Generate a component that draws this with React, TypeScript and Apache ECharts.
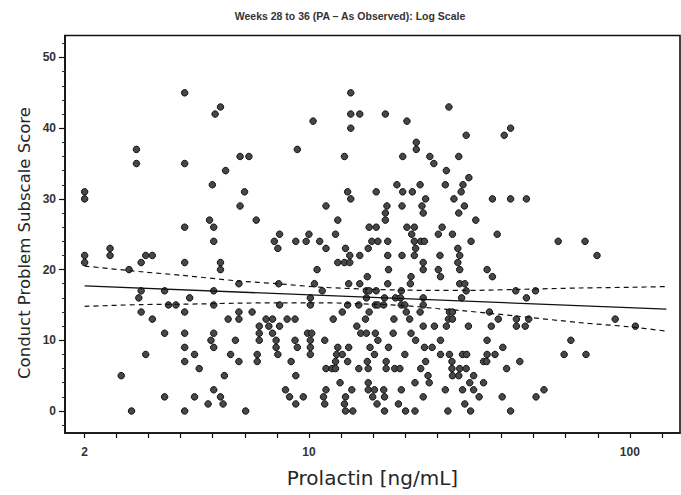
import React, { useEffect, useRef } from "react";
import * as echarts from "echarts";

const chartTitle = "Weeks 28 to 36 (PA – As Observed): Log Scale";
const xAxisName = "Prolactin [ng/mL]";
const yAxisName = "Conduct Problem Subscale Score";

// axis extents (prolactin on a log10 scale, score linear)
const xExtent = [1.737, 143.3];
const yExtent = [-3.11, 53.11];
const xTickValues = [1.995, 2.512, 3.162, 3.981, 5.012, 6.31, 7.943, 10, 12.59, 15.85, 19.95, 25.12, 31.62, 39.81, 50.12, 63.1, 79.43, 100, 125.9];
const xLabelValues = [2, 10, 100];
const yLabelValues = [0, 10, 20, 30, 40, 50];
const yMinorValues = [-2, 2, 4, 6, 8, 12, 14, 16, 18, 22, 24, 26, 28, 32, 34, 36, 38, 42, 44, 46, 48, 52];

// observations: each row = score and the prolactin values observed at it
const rows: [number, number[]][] = [
  [45, [4.1, 13.5]],
  [43, [5.3, 27.3]],
  [42, [5.1, 13.5, 14.4, 17.3]],
  [41, [10.3, 20.2]],
  [40, [13.5, 42.5]],
  [39, [30.9, 40.6]],
  [38, [21.6]],
  [37, [2.9, 9.2, 21.6]],
  [36, [6.1, 6.5, 12.9, 19.6, 23.8, 29.3]],
  [35, [2.9, 4.1, 24.5]],
  [34, [5.5, 26.8]],
  [33, [31.5]],
  [32, [5.0, 18.8, 22.2, 26.6, 30.2]],
  [31, [2.0, 6.3, 13.2, 16.2, 19.6, 21.0, 29.8]],
  [30, [2.0, 13.5, 23.1, 28.3, 37.3, 42.5, 47.6]],
  [29, [6.1, 11.3, 17.5, 19.5, 22.5, 30.5]],
  [28, [17.3, 22.7, 29.3]],
  [27, [4.9, 6.85, 12.3, 17.3, 33.1]],
  [26, [4.1, 5.05, 15.4, 16.2, 20.2, 21.3, 26.0]],
  [25, [8.1, 10.0, 12.1, 20.9, 25.3, 28.0, 38.6]],
  [24, [5.05, 7.8, 9.1, 9.8, 10.8, 15.7, 16.4, 17.6, 21.3, 22.3, 22.9, 32.0, 59.8, 72.5]],
  [23, [2.4, 8.0, 11.3, 13.0, 15.3, 21.5, 29.1]],
  [22, [2.0, 2.4, 3.1, 3.25, 13.4, 14.4, 17.6, 19.5, 21.3, 25.6, 29.5, 79]],
  [21, [2.0, 3.0, 4.1, 5.3, 12.3, 12.9, 13.4, 22.7, 29.1]],
  [20, [2.75, 5.3, 10.6, 17.7, 22.7, 25.3, 29.5, 35.9]],
  [19, [15.2, 20.8, 25.7, 37.3]],
  [18, [6.05, 8.05, 10.4, 13.3, 14.4, 17.6, 20.7, 29.5, 30.6]],
  [17, [3.0, 3.55, 5.05, 11.0, 15.1, 15.4, 16.2, 19.4, 30.9, 44.1, 50.8]],
  [16, [2.95, 4.25, 10.1, 15.1, 17.2, 18.6, 19.3, 22.7, 29.9, 47.6]],
  [15, [3.65, 3.85, 5.05, 8.1, 10.1, 13.2, 14.3, 16.1, 16.4, 17.1, 19.4, 19.9, 22.7]],
  [14, [3.0, 4.1, 6.05, 6.65, 12.7, 15.4, 20.1, 22.2, 27.4, 28.0, 36.5]],
  [13, [3.25, 5.6, 6.05, 7.35, 7.7, 8.55, 9.05, 11.9, 15.0, 18.4, 20.6, 27.2, 28.0, 38.9, 44.3, 48.4, 90]],
  [12, [7.0, 7.5, 8.1, 14.1, 22.7, 24.6, 26.8, 31.4, 37.0, 44.3, 47.2, 104]],
  [11, [3.55, 4.1, 5.05, 7.0, 7.7, 9.9, 10.2, 14.5, 15.1, 16.1, 18.3, 20.8]],
  [10, [4.95, 5.9, 7.0, 7.9, 9.05, 10.1, 11.2, 16.4, 21.5, 25.7, 35.9, 65.5]],
  [9, [4.1, 5.05, 7.9, 9.2, 10.1, 12.3, 13.3, 15.5, 17.7, 22.9, 24.2, 40.2]],
  [8, [3.1, 4.4, 5.7, 6.9, 8.0, 10.1, 12.2, 12.7, 16.0, 19.9, 25.7, 27.4, 30.1, 31.0, 35.9, 38.0, 62.4, 73]],
  [7, [4.1, 6.05, 6.9, 8.8, 12.1, 13.2, 15.2, 17.4, 23.1, 27.9, 35.0, 35.8, 45.4]],
  [6, [4.55, 11.3, 11.8, 12.1, 14.3, 15.3, 17.4, 18.5, 19.2, 22.3, 27.9, 29.5, 30.9, 41.3]],
  [5, [2.6, 5.45, 9.1, 23.5, 28.0, 29.3, 32.6]],
  [4, [12.5, 15.3, 21.4, 23.7, 31.7, 35.0]],
  [3, [5.05, 8.45, 11.3, 13.6, 15.3, 16.0, 17.1, 19.4, 26.6, 30.1, 32.6, 54]],
  [2, [3.55, 4.4, 5.3, 8.7, 9.6, 11.1, 13.0, 15.8, 17.2, 22.7, 33.9, 40, 51]],
  [1, [4.85, 5.4, 9.1, 11.2, 12.9, 16.3, 19.0, 30.6]],
  [0, [2.8, 4.1, 6.35, 13.0, 13.7, 17.2, 20.0, 21.4, 27.1, 31.9, 42.5]],
];

// regression line and confidence band
const fitX = [2, 130];
const fitY = [17.7, 14.4];
const bandX = [2, 3, 4, 6, 8, 11, 16, 20, 25, 30, 45, 70, 100, 130];
const bandUpper = [20.5, 19.7, 19.2, 18.4, 18.0, 17.5, 17.2, 17.1, 17.05, 17.05, 17.2, 17.4, 17.5, 17.6];
const bandLower = [14.8, 15.05, 15.1, 15.25, 15.3, 15.3, 15.1, 14.9, 14.5, 14.2, 13.4, 12.5, 11.9, 11.3];

const lg = (v: number) => Math.log10(v);

export default function App() {
  const ref = useRef<HTMLDivElement>(null);
  useEffect(() => {
    if (!ref.current) return;
    const chart = echarts.init(ref.current, undefined, { renderer: "svg" });
    const scatterData: number[][] = [];
    rows.forEach(([s, xs]) => xs.forEach((x) => scatterData.push([lg(x), s])));
    const textColor = "#262626";
    chart.setOption({
      animation: false,
      backgroundColor: "#ffffff",
      title: {
        text: chartTitle,
        left: 345,
        top: 5,
        textAlign: "center",
        textStyle: { fontFamily: "Liberation Sans", fontSize: 10.5, fontWeight: "bold", color: "#333" },
      },
      graphic: [
        {
          type: "text",
          x: 24,
          y: 243,
          rotation: Math.PI / 2,
          style: {
            text: yAxisName,
            fontFamily: "DejaVu Sans",
            fontSize: 16.5,
            fill: textColor,
            textAlign: "center",
            textVerticalAlign: "middle",
          },
        },
      ],
      grid: {
        left: 65,
        right: 1,
        top: 35.5,
        bottom: 62,
        show: true,
        borderColor: "#111",
        borderWidth: 1.6,
      },
      xAxis: {
        type: "value",
        min: lg(xExtent[0]),
        max: lg(xExtent[1]),
        name: xAxisName,
        nameLocation: "middle",
        nameGap: 35,
        nameTextStyle: { fontFamily: "DejaVu Sans", fontSize: 20, color: textColor },
        axisLine: { show: true, onZero: false, lineStyle: { color: "#111", width: 1.6 } },
        axisTick: {
          show: true,
          length: 5,
          customValues: xTickValues.map(lg),
          lineStyle: { color: "#111", width: 1.2 },
        },
        axisLabel: {
          customValues: xLabelValues.map(lg),
          formatter: (v: number) => String(Math.round(Math.pow(10, v))),
          fontFamily: "Liberation Sans",
          fontSize: 12,
          fontWeight: "bold",
          color: "#333",
          margin: 13,
        },
        splitLine: { show: false },
      },
      yAxis: [
        {
          type: "value",
          min: yExtent[0],
          max: yExtent[1],
          axisLine: { show: true, onZero: false, lineStyle: { color: "#111", width: 1.6 } },
          axisTick: {
            show: true,
            length: 6,
            customValues: yLabelValues,
            lineStyle: { color: "#111", width: 1.2 },
          },
          axisLabel: {
            customValues: yLabelValues,
            fontFamily: "Liberation Sans",
            fontSize: 12,
            fontWeight: "bold",
            color: "#333",
            margin: 9,
          },
          splitLine: { show: false },
        },
        {
          type: "value",
          position: "left",
          min: yExtent[0],
          max: yExtent[1],
          axisLine: { show: false, onZero: false },
          axisTick: {
            show: true,
            length: 3,
            customValues: yMinorValues,
            lineStyle: { color: "#333", width: 1 },
          },
          axisLabel: { show: false },
          splitLine: { show: false },
        },
      ],
      series: [
        {
          type: "scatter",
          data: scatterData,
          symbol: "circle",
          symbolSize: 6.5,
          itemStyle: { color: "#474747", borderColor: "#111", borderWidth: 1, opacity: 1 },
          silent: true,
          z: 3,
        },
        {
          type: "line",
          data: fitX.map((x, i) => [lg(x), fitY[i]]),
          showSymbol: false,
          lineStyle: { color: "#111", width: 1.3 },
          silent: true,
          z: 4,
        },
        {
          type: "line",
          data: bandX.map((x, i) => [lg(x), bandUpper[i]]),
          showSymbol: false,
          smooth: 0.3,
          lineStyle: { color: "#111", width: 1.2, type: [5, 4] },
          silent: true,
          z: 4,
        },
        {
          type: "line",
          data: bandX.map((x, i) => [lg(x), bandLower[i]]),
          showSymbol: false,
          smooth: 0.3,
          lineStyle: { color: "#111", width: 1.2, type: [5, 4] },
          silent: true,
          z: 4,
        },
      ],
    });
    return () => chart.dispose();
  }, []);
  return (
    <div
      ref={ref}
      style={{ position: "absolute", left: 0, top: 0, width: 681, height: 495, background: "#fff" }}
    />
  );
}
